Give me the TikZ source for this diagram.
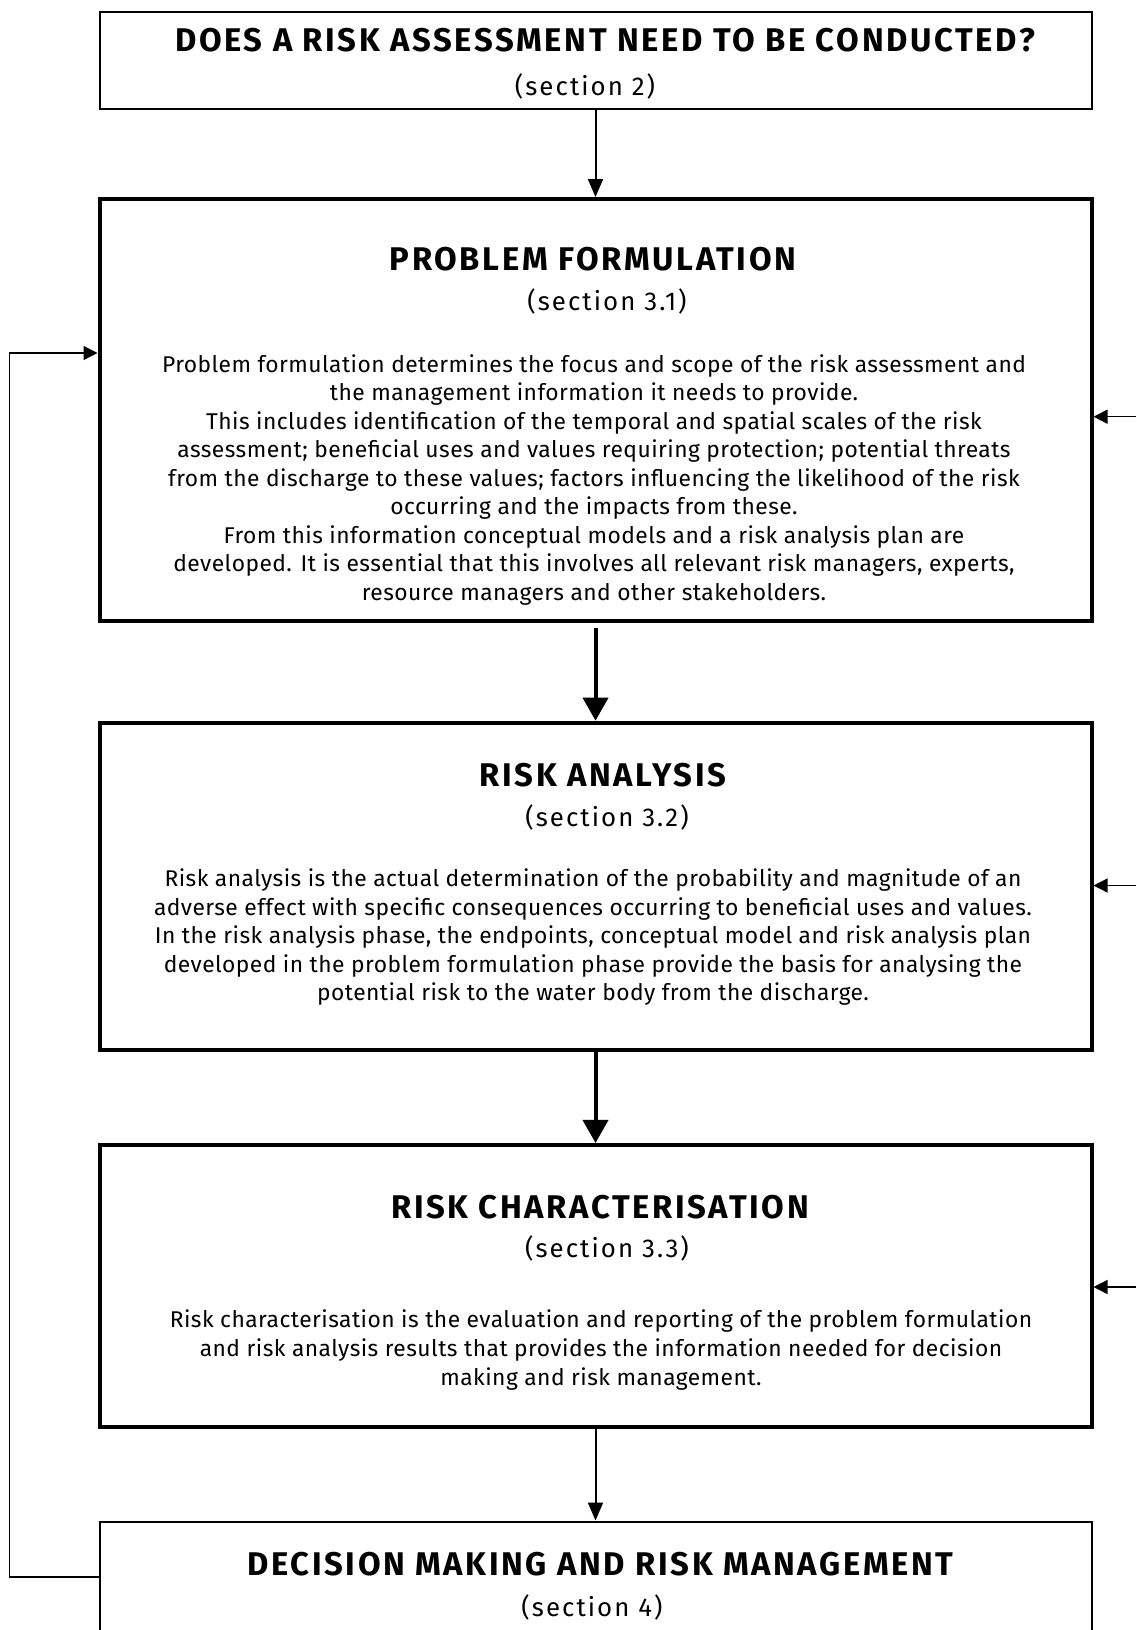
\documentclass[tikz,border=0pt]{standalone}
\usepackage{fontspec}
\setmainfont{Fira Sans}
\newfontfamily\headfont[LetterSpace=8]{Fira Sans}
\newfontfamily\secfont[LetterSpace=8]{Fira Sans}
\newfontfamily\bodyfont[LetterSpace=2]{Fira Sans}
\usetikzlibrary{arrows.meta,positioning}
\newcommand{\headsize}{\fontsize{32.8}{38}\selectfont}
\newcommand{\secsize}{\fontsize{25.8}{28}\selectfont}
\newcommand{\bodysize}{\fontsize{22.8}{28.55}\selectfont}

\begin{document}
\begin{tikzpicture}[x=1pt, y=-1pt,
    thinbox/.style={draw, line width=2pt, minimum width=992pt, inner sep=0pt},
    thickbox/.style={draw, line width=4pt, minimum width=992pt, inner sep=0pt},
    head/.style={font=\headfont\headsize\bfseries, anchor=base, inner sep=0pt},
    sec/.style={font=\secfont\secsize, anchor=base, inner sep=0pt},
    body/.style={font=\bodyfont\bodysize, align=center, anchor=base, inner sep=0pt},
    flow/.style={-{Triangle[length=18pt,width=15pt]}, line width=2pt},
    bigflow/.style={-{Triangle[length=23pt,width=25pt]}, line width=4pt},
    back/.style={-{Triangle[length=14pt,width=14pt]}, line width=1.3pt}]
  \useasboundingbox (0,0) rectangle (1136,1630);

  % boxes
  \node[thinbox, minimum height=97.5pt] (ask) at (595.5,60.25) {};
  \node[thickbox, minimum height=422pt] (pf) at (595.5,410) {};
  \node[thickbox, minimum height=327.3pt] (ra) at (595.5,886.3) {};
  \node[thickbox, minimum height=281.7pt] (rc) at (595.5,1285.8) {};
  \node[thinbox, minimum height=111pt] (dm) at (595.5,1577) {};

  % texts (body nodes sit on the baseline of their last line)
  \node[head] (askhead) at (605,51.7) {DOES A RISK ASSESSMENT NEED TO BE CONDUCTED?};
  \node[sec] (asksec) at (585,95) {(section 2)};

  \node[head] (pfhead) at (593,270.7) {PROBLEM FORMULATION};
  \node[sec] (pfsec) at (607,310) {(section 3.1)};
  \node[body] (pfbody) at (594,600.5) {Problem formulation determines the focus and scope of the risk assessment and\\
    the management information it needs to provide.\\
    This includes identification of the temporal and spatial scales of the risk\\
    assessment; beneficial uses and values requiring protection; potential threats\\
    from the discharge to these values; factors influencing the likelihood of the risk\\
    occurring and the impacts from these.\\
    From this information conceptual models and a risk analysis plan are\\
    developed. It is essential that this involves all relevant risk managers, experts,\\
    resource managers and other stakeholders.};

  \node[head] (rahead) at (603,786.5) {RISK ANALYSIS};
  \node[sec] (rasec) at (607,826.5) {(section 3.2)};
  \node[body] (rabody) at (593,1000.7) {Risk analysis is the actual determination of the probability and magnitude of an\\
    adverse effect with specific consequences occurring to beneficial uses and values.\\
    In the risk analysis phase, the endpoints, conceptual model and risk analysis plan\\
    developed in the problem formulation phase provide the basis for analysing the\\
    potential risk to the water body from the discharge.};

  \node[head] (rchead) at (600,1218.3) {RISK CHARACTERISATION};
  \node[sec] (rcsec) at (607,1257) {(section 3.3)};
  \node[body] (rcbody) at (601,1385) {Risk characterisation is the evaluation and reporting of the problem formulation\\
    and risk analysis results that provides the information needed for decision\\
    making and risk management.};

  \node[head] (dmhead) at (600.5,1575) {DECISION MAKING AND RISK MANAGEMENT};
  \node[sec] (dmsec) at (592,1616) {(section 4)};

  % feedback coming in from the right
  \coordinate (pfin) at (1136,416.7);
  \coordinate (rain) at (1136,885.5);
  \coordinate (rcin) at (1136,1287);

  % connectors
  \draw[flow] (ask) -- (pf);
  \draw[bigflow, shorten <=5pt] (pf) -- (ra);
  \draw[bigflow] (ra) -- (rc);
  \draw[flow] (rc) -- (dm);
  \draw[back] (dm.west) -- ++(-89,0) |- ([yshift=57pt]pf.west);
  \draw[back] (pfin) -- (pfin -| pf.east);
  \draw[back] (rain) -- (rain -| ra.east);
  \draw[back] (rcin) -- (rcin -| rc.east);
\end{tikzpicture}
\end{document}
